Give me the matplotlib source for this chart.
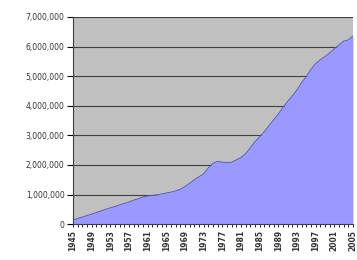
import matplotlib.pyplot as plt
import numpy as np

# yearly values
years = list(range(1945, 2006))
values = [
    140000, 190000, 240000, 290000, 340000, 390000, 450000, 500000, 550000, 600000,
    650000, 700000, 750000, 810000, 860000, 920000, 950000, 970000, 990000, 1020000,
    1050000, 1080000, 1120000, 1180000, 1270000, 1380000, 1500000, 1600000, 1700000, 1900000,
    2060000, 2120000, 2090000, 2080000, 2090000, 2170000, 2250000, 2380000, 2580000, 2780000,
    2950000, 3120000, 3320000, 3520000, 3720000, 3940000, 4140000, 4330000, 4530000, 4780000,
    4980000, 5220000, 5420000, 5550000, 5660000, 5780000, 5920000, 6050000, 6180000, 6220000,
    6350000,
]
label_years = list(range(1945, 2006, 4))
y_ticks = list(range(0, 7000001, 1000000))

fig = plt.figure(figsize=(3.57, 2.6), dpi=100)
fig.patch.set_facecolor('white')
ax = fig.add_axes([0.2045, 0.138, 0.784, 0.797])
ax.set_facecolor('#c0c0c0')

ax.fill_between(years, values, 0, color='#9999ff', linewidth=0, zorder=2)
ax.plot(years, values, color='#5a5ab4', linewidth=0.7, zorder=3)

ax.set_xlim(1945, 2005)
ax.set_ylim(0, 7000000)
ax.set_yticks(y_ticks)
ax.set_yticklabels([f'{v:,}' for v in y_ticks], fontsize=5.5, color='#333333')
ax.set_xticks(label_years)
ax.set_xticklabels([str(y) for y in label_years], rotation=90, fontsize=5.5,
                   fontweight='bold', color='#333333')
ax.set_xticks(years, minor=True)
ax.tick_params(axis='x', which='both', length=2, width=0.6, pad=2)
ax.tick_params(axis='y', length=4, width=0.8, pad=2)

ax.grid(axis='y', color='#404040', linewidth=0.8, zorder=1)
ax.set_axisbelow(True)
for side in ['top', 'right']:
    ax.spines[side].set_visible(False)
ax.spines['left'].set_color('#404040')
ax.spines['bottom'].set_color('#404040')

fig.savefig('out.png', dpi=100)
